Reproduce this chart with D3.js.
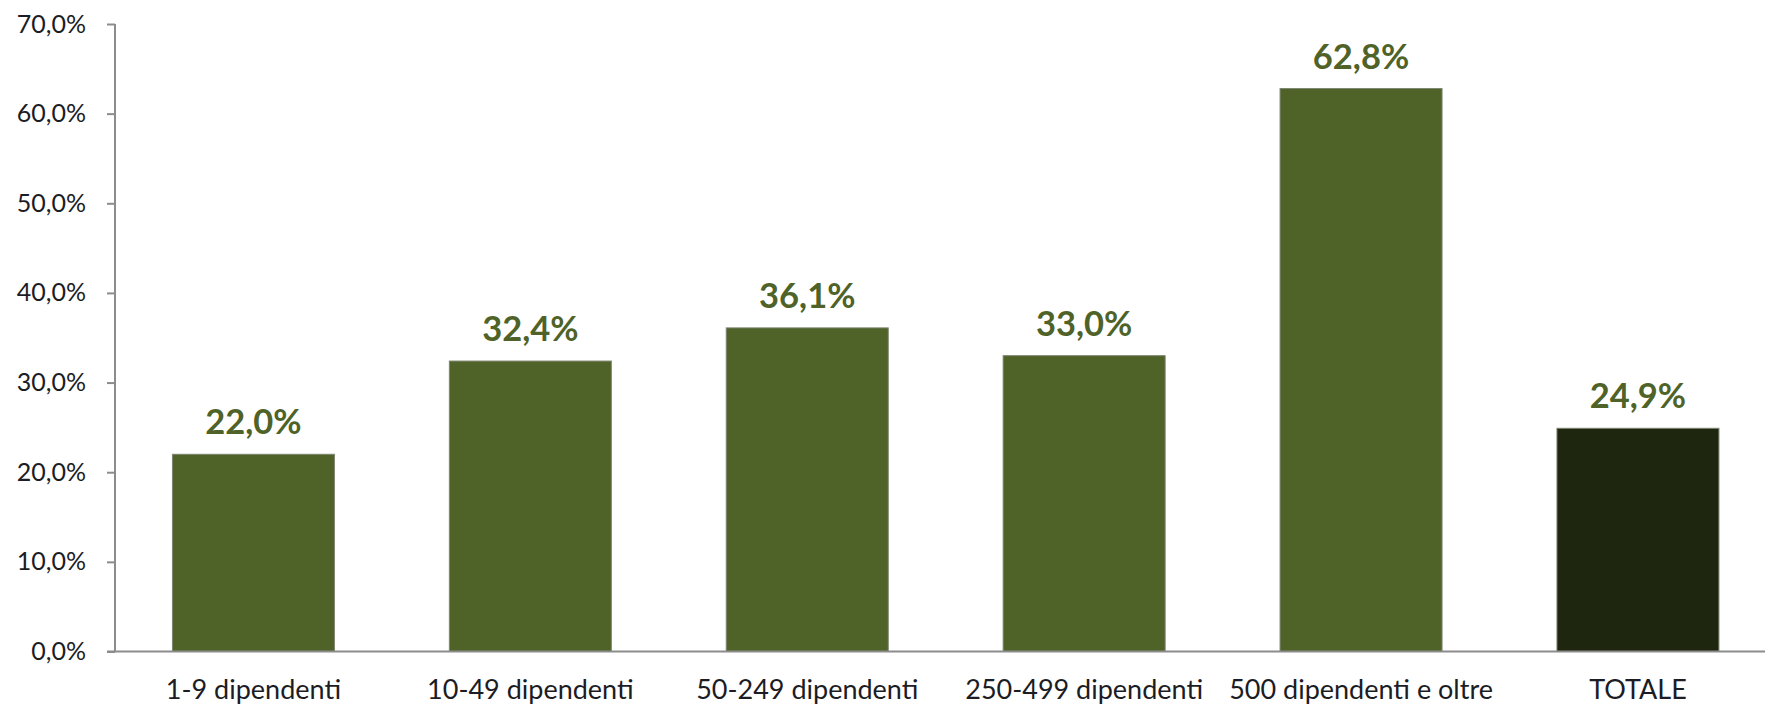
<!DOCTYPE html>
<html>
<head>
<meta charset="utf-8">
<script src="https://cdn.jsdelivr.net/npm/d3@7"></script>
<style>
  body{margin:0;background:#fff}
  svg{display:block}
</style>
</head>
<body>
<main></main>
<script>
// data
const categories = ["1-9 dipendenti","10-49 dipendenti","50-249 dipendenti","250-499 dipendenti","500 dipendenti e oltre","TOTALE"]
const values = [22.0,32.4,36.1,33.0,62.8,24.9]
const yTicks = [0,10,20,30,40,50,60,70]

let width=1765
let height=705
let left=115
let top0=24
let bottom=651.5

let svg=d3.select("main").append("svg")
  .attr("width",width)
  .attr("height",height)

let x=d3.scaleBand()
  .domain(categories)
  .range([left,left+6*276.9])
  .paddingInner(0.415)
  .paddingOuter(0.2075)

let y=d3.scaleLinear()
  .domain([0,70])
  .range([bottom,top0])

let fmt=d=>d3.format(".1f")(d).replace(".",",")+"%"

//bars
svg.append("g").selectAll("rect")
  .data(values)
  .join("rect")
  .attr("x",(d,i)=>x(categories[i]))
  .attr("y",d=>y(d))
  .attr("width",x.bandwidth())
  .attr("height",d=>y(0)-y(d))
  .attr("fill",(d,i)=>categories[i]==="TOTALE"?"#1f2610":"#4f6228")
  .attr("stroke","#7d8570")
  .attr("stroke-width",1)

//value labels
svg.append("g").selectAll("text")
  .data(values)
  .join("text")
  .attr("x",(d,i)=>x(categories[i])+x.bandwidth()/2)
  .attr("y",d=>y(d)-20)
  .attr("text-anchor","middle")
  .attr("font-family","Lato")
  .attr("font-weight","bold")
  .attr("font-size",34.5)
  .attr("fill","#4f6228")
  .text(d=>fmt(d))

//y axis
let yAxis=svg.append("g")
  .attr("transform",`translate(${left},0)`)
  .call(d3.axisLeft(y).tickValues(yTicks).tickFormat(fmt).tickSize(8).tickPadding(21))
yAxis.select(".domain").attr("stroke","#8c8c8c").attr("stroke-width",2).attr("d",`M0,${top0}H0V${bottom}`)
yAxis.selectAll(".tick line").attr("stroke","#8c8c8c").attr("stroke-width",2)
yAxis.selectAll(".tick text")
  .attr("font-family","Lato")
  .attr("font-size",25)
  .attr("fill","#1c1c24")

//x axis line
svg.append("line")
  .attr("x1",left-8)
  .attr("x2",width)
  .attr("y1",bottom)
  .attr("y2",bottom)
  .attr("stroke","#8c8c8c")
  .attr("stroke-width",2)

//category labels
svg.append("g").selectAll("text")
  .data(categories)
  .join("text")
  .attr("x",d=>x(d)+x.bandwidth()/2)
  .attr("y",699)
  .attr("text-anchor","middle")
  .attr("font-family","Lato")
  .attr("font-size",27)
  .attr("fill","#1c1c24")
  .text(d=>d)
</script>
</body>
</html>
